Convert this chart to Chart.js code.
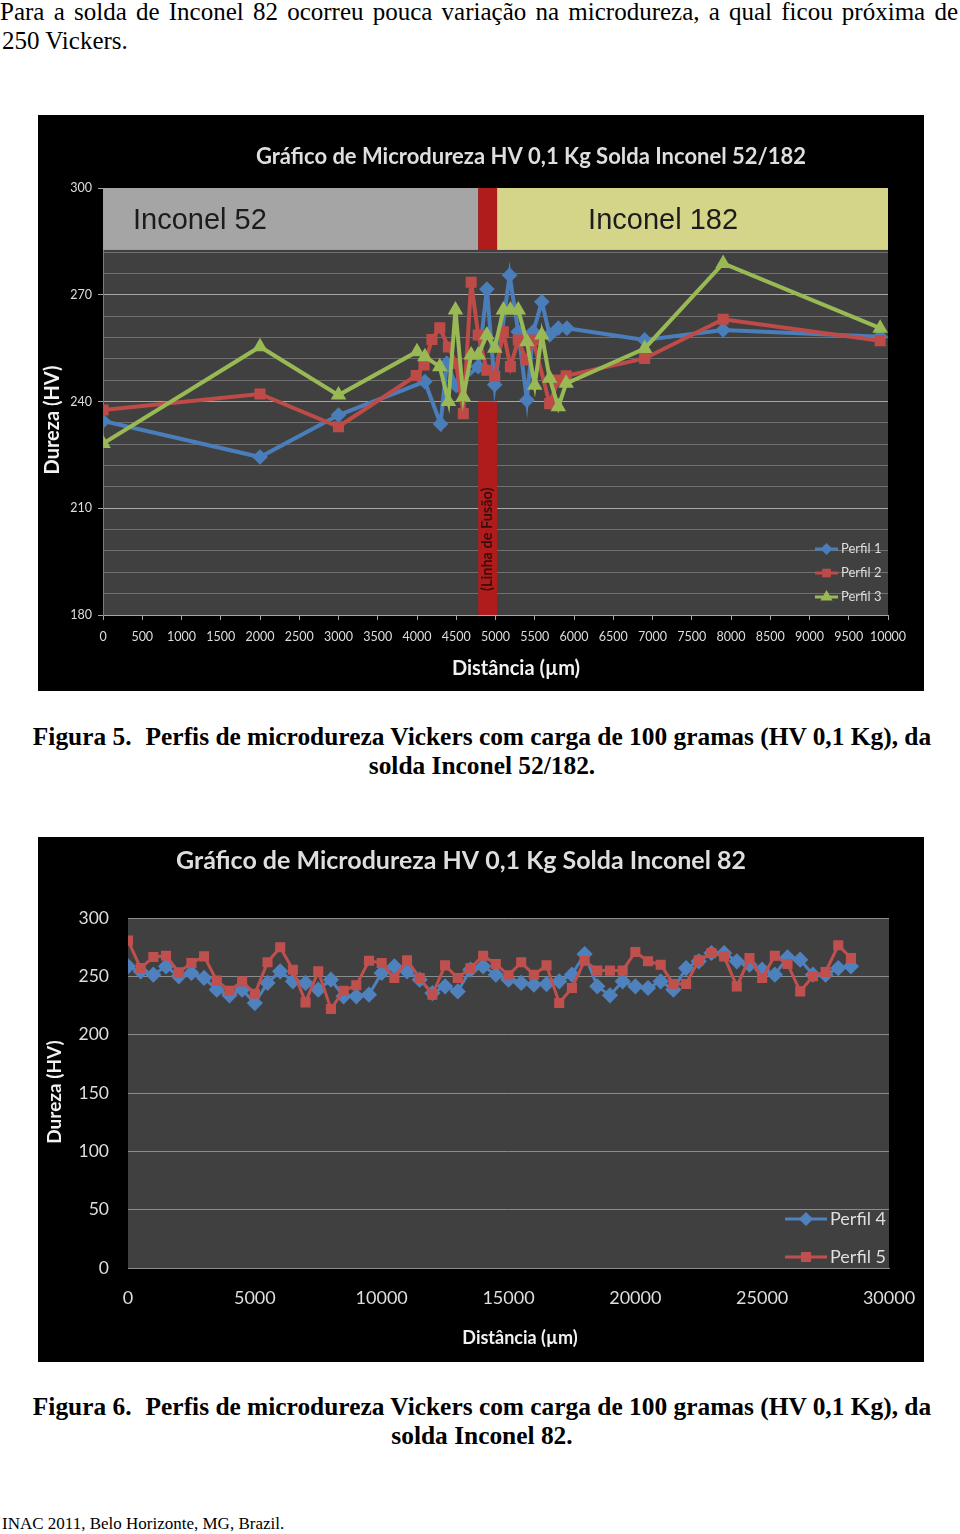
<!DOCTYPE html>
<html lang="pt">
<head>
    <meta charset="UTF-8">
    <title>Microdureza Vickers - Inconel</title>
    <script src="https://cdn.jsdelivr.net/npm/chart.js"></script>
    <style>
        body {
            margin: 0;
            width: 960px;
            height: 1534px;
            position: relative;
            overflow: hidden;
            background: #ffffff;
            font-family: 'Liberation Serif', 'Times New Roman', serif;
            color: #000;
        }
        #intro1 {
            position: absolute; left: 0; top: -3px; width: 958px;
            font-size: 25px; line-height: 29px;
            text-align: justify; text-align-last: justify;
        }
        #intro2 {
            position: absolute; left: 2px; top: 26px;
            font-size: 25px; line-height: 29px;
        }
        .box {
            position: absolute;
            left: 38px;
            width: 886px;
            background: #000;
        }
        #box1 { top: 115px; height: 576px; }
        #box2 { top: 837px; height: 525px; }
        .caption {
            position: absolute; left: 0; width: 964px;
            text-align: center; font-weight: bold;
            font-size: 25.4px; line-height: 29px;
        }
        .gap { display: inline-block; width: 14px; }
        #cap1 { top: 722px; }
        #cap2 { top: 1392px; }
        #footer {
            position: absolute; left: 2px; top: 1514px;
            font-size: 17px; line-height: 20px;
        }
    </style>
</head>
<body>
    <div id="intro1">Para a solda de Inconel 82 ocorreu pouca variação na microdureza, a qual ficou próxima de</div>
    <div id="intro2">250 Vickers.</div>

    <div class="box" id="box1"><canvas id="chart1" width="886" height="576"></canvas></div>
    <div class="caption" id="cap1">Figura 5.<span class="gap"></span>Perfis de microdureza Vickers com carga de 100 gramas (HV 0,1 Kg), da<br>solda Inconel 52/182.</div>

    <div class="box" id="box2"><canvas id="chart2" width="886" height="525"></canvas></div>
    <div class="caption" id="cap2">Figura 6.<span class="gap"></span>Perfis de microdureza Vickers com carga de 100 gramas (HV 0,1 Kg), da<br>solda Inconel 82.</div>

    <div id="footer">INAC 2011, Belo Horizonte, MG, Brazil.</div>

    <script>
        // --- Solda Inconel 52/182 (distância em µm, dureza HV)
        const perfil1X = [0, 2000, 3000, 4100, 4300, 4380, 4500, 4780, 4890, 4990, 5180, 5290, 5400, 5480, 5590, 5690, 5800, 5910, 6900, 7900, 9900];
        const perfil1Y = [234.5, 224.4, 236.2, 245.6, 233.7, 250.7, 244.5, 249.8, 271.6, 244.7, 275.5, 259.6, 240.4, 259.6, 268, 258.7, 260.6, 260.6, 257.3, 260.1, 258.2];
        const perfil2X = [0, 2000, 3000, 3990, 4090, 4190, 4290, 4400, 4500, 4590, 4690, 4780, 4890, 4990, 5100, 5190, 5290, 5390, 5480, 5690, 5800, 5900, 6900, 7900, 9900];
        const perfil2Y = [237.6, 242.1, 232.9, 247.3, 250.3, 257.4, 260.7, 255.3, 250.7, 236.6, 273.5, 258.7, 248.8, 247.1, 259.6, 249.8, 257.3, 251.7, 257.3, 239.4, 246, 247.2, 252.1, 263.1, 257.1];
        const perfil3X = [0, 2000, 3000, 4000, 4100, 4290, 4400, 4490, 4590, 4690, 4780, 4890, 4990, 5100, 5190, 5290, 5400, 5500, 5590, 5690, 5800, 5900, 6900, 7900, 9900];
        const perfil3Y = [228.2, 255.4, 241.8, 254, 252.6, 249.8, 240, 265.7, 241.3, 253.1, 253.1, 258.7, 255, 265.7, 265.7, 265.7, 256.8, 244.6, 258.7, 246.5, 238.5, 245.1, 254.9, 278.8, 260.6];

        // faixas: metal de solda / linha de fusão
        const inconel52Ate = 4780;
        const inconel182De = 5020;
        const faixaTopoBase = 282.6;
        const fusaoTopo = 240;

        // --- Solda Inconel 82
        const distancias82 = [0, 500, 1000, 1500, 2000, 2500, 3000, 3500, 4000, 4500, 5000, 5500, 6000, 6500, 7000, 7500, 8000, 8500, 9000, 9500,
            10000, 10500, 11000, 11500, 12000, 12500, 13000, 13500, 14000, 14500, 15000, 15500, 16000, 16500, 17000, 17500, 18000, 18500, 19000, 19500,
            20000, 20500, 21000, 21500, 22000, 22500, 23000, 23500, 24000, 24500, 25000, 25500, 26000, 26500, 27000, 27500, 28000, 28500];
        const perfil4 = [258.6, 254.3, 251.4, 258.6, 250, 252.9, 248.6, 238.6, 233.7, 238.6, 227.1, 244.3, 254.3, 245.7, 244.3, 238.6, 247.1, 232.9, 232.9, 234.3,
            252.9, 258.6, 254.3, 247.1, 235.7, 241.4, 237.1, 255.7, 258.6, 251.4, 247.1, 244.3, 242.9, 243.4, 245.7, 251.4, 269.1, 241.4, 233.7, 245.7,
            241.4, 240, 245.7, 238.6, 257.1, 262.9, 270, 270, 262.9, 260, 255.7, 251.4, 266.3, 264.3, 251.4, 251.4, 257.1, 258.6];
        const perfil5 = [280.6, 257.1, 266.6, 267.7, 253.4, 261.4, 267.1, 246.3, 237.7, 245.7, 235.1, 262, 274.9, 255.7, 227.7, 254.3, 222, 237.7, 242.3, 263.4,
            261.4, 248.6, 263.7, 248.6, 234.3, 259.4, 248.6, 257.1, 267.7, 260.6, 250.9, 262, 251.4, 259.4, 227.1, 240, 263.4, 254.9, 254.9, 254.9,
            270.9, 262.9, 260, 243.4, 243.4, 263.7, 270, 267.1, 241.4, 265.7, 248.6, 267.7, 260.6, 237.1, 250, 253.7, 276.6, 265.7];

        const FONT = "Lato, 'Open Sans', sans-serif";
        const BLUE = '#4a7ebb';
        const RED = '#be4b48';
        const GREEN = '#98b954';
        const LABEL = '#dedede';

        function pts(xs, ys) {
            return xs.map((x, i) => ({ x: x, y: ys[i] }));
        }
        const semMilhar = v => String(v);

        // fundo cinza da área de plotagem
        const plotBg = {
            id: 'plotBg',
            beforeDraw(chart) {
                const { ctx, chartArea: a } = chart;
                ctx.save();
                ctx.fillStyle = '#404040';
                ctx.fillRect(a.left, a.top, a.right - a.left, a.bottom - a.top);
                ctx.restore();
            }
        };

        function drawText(ctx, t) {
            ctx.save();
            ctx.font = t.font;
            ctx.fillStyle = t.color;
            ctx.textAlign = t.align || 'center';
            ctx.textBaseline = 'middle';
            ctx.translate(t.x, t.y);
            if (t.rotate) ctx.rotate(t.rotate);
            ctx.fillText(t.text, 0, 0);
            ctx.restore();
        }

        // textos fixos (título, eixos)
        const textos = {
            id: 'textos',
            afterDraw(chart, args, opts) {
                opts.items.forEach(t => drawText(chart.ctx, t));
            }
        };

        // legenda dentro da área do gráfico
        const legendaInterna = {
            id: 'legendaInterna',
            afterDraw(chart, args, opts) {
                const ctx = chart.ctx;
                chart.data.datasets.forEach((ds, i) => {
                    const y = opts.y + i * opts.gap;
                    ctx.save();
                    ctx.strokeStyle = ds.borderColor;
                    ctx.fillStyle = ds.borderColor;
                    ctx.lineWidth = opts.lineWidth;
                    ctx.beginPath();
                    ctx.moveTo(opts.x, y);
                    ctx.lineTo(opts.x + opts.len, y);
                    ctx.stroke();
                    Chart.helpers.drawPoint(ctx, { pointStyle: ds.pointStyle, radius: opts.radius, borderWidth: 1 }, opts.x + opts.len / 2, y);
                    ctx.restore();
                    drawText(ctx, { text: ds.label, x: opts.x + opts.len + 3, y: y, font: opts.font, color: LABEL, align: 'left' });
                });
            }
        };

        // faixas Inconel 52 / linha de fusão / Inconel 182
        const faixas = {
            id: 'faixas',
            beforeDatasetsDraw(chart) {
                const { ctx, scales: { x, y } } = chart;
                const top = y.getPixelForValue(300);
                const base = y.getPixelForValue(faixaTopoBase);
                const x0 = x.getPixelForValue(0);
                const xa = x.getPixelForValue(inconel52Ate);
                const xb = x.getPixelForValue(inconel182De);
                const x1 = x.getPixelForValue(10000);
                ctx.save();
                ctx.fillStyle = '#a5a5a5';
                ctx.fillRect(x0, top, xa - x0, base - top);
                ctx.fillStyle = '#d5d58a';
                ctx.fillRect(xb, top, x1 - xb, base - top);
                ctx.fillStyle = '#b01c1c';
                ctx.fillRect(xa, top, xb - xa, base - top);
                const f = y.getPixelForValue(fusaoTopo);
                const b = y.getPixelForValue(180);
                ctx.fillRect(xa, f, xb - xa, b - f);
                ctx.restore();
                const mid = (top + base) / 2 + 2;
                drawText(ctx, { text: 'Inconel 52', x: x0 + 30, y: mid, font: "29px 'Liberation Sans', Arial, sans-serif", color: '#1c1c1c', align: 'left' });
                drawText(ctx, { text: 'Inconel 182', x: xb + 91, y: mid, font: "29px 'Liberation Sans', Arial, sans-serif", color: '#1c1c1c', align: 'left' });
                drawText(ctx, { text: '(Linha de Fusão)', x: (xa + xb) / 2, y: (f + b) / 2 + 31, font: 'bold 14.5px ' + FONT, color: '#3a0c0c', rotate: -Math.PI / 2 });
            }
        };

        new Chart(document.getElementById('chart1'), {
            type: 'line',
            data: {
                datasets: [
                    { label: 'Perfil 1', data: pts(perfil1X, perfil1Y), borderColor: BLUE, backgroundColor: BLUE, pointStyle: 'rectRot', pointRadius: 5, borderWidth: 4, order: 3 },
                    { label: 'Perfil 2', data: pts(perfil2X, perfil2Y), borderColor: RED, backgroundColor: RED, pointStyle: 'rect', pointRadius: 5, borderWidth: 4, order: 2 },
                    { label: 'Perfil 3', data: pts(perfil3X, perfil3Y), borderColor: GREEN, backgroundColor: GREEN, pointStyle: 'triangle', pointRadius: 5, borderWidth: 4, order: 1 }
                ]
            },
            options: {
                responsive: false,
                animation: false,
                layout: { padding: { top: 73, right: 36, left: 0, bottom: 0 } },
                plugins: {
                    legend: { display: false },
                    tooltip: { enabled: false },
                    textos: {
                        items: [
                            { text: 'Gráfico de Microdureza HV 0,1 Kg Solda Inconel 52/182', x: 493, y: 42, font: 'bold 22px ' + FONT, color: LABEL },
                            { text: 'Dureza (HV)', x: 15, y: 305, font: 'bold 20px ' + FONT, color: '#f2f2f2', rotate: -Math.PI / 2 },
                            { text: 'Distância (µm)', x: 478, y: 554, font: 'bold 20px ' + FONT, color: '#f2f2f2' }
                        ]
                    },
                    legendaInterna: { x: 777, y: 434, gap: 24, len: 23, lineWidth: 3, radius: 4, font: '13px ' + FONT }
                },
                scales: {
                    x: {
                        type: 'linear', min: 0, max: 10000,
                        ticks: { stepSize: 500, color: LABEL, font: { family: FONT, size: 12.5 }, padding: 9, maxRotation: 0, autoSkip: false, callback: semMilhar },
                        grid: { drawOnChartArea: false, tickLength: 5, tickColor: '#a6a6a6' },
                        border: { color: '#a6a6a6' },
                        afterFit: s => { s.height = 76; }
                    },
                    y: {
                        min: 180, max: 300,
                        ticks: { stepSize: 6, autoSkip: false, color: LABEL, font: { family: FONT, size: 12.5 }, padding: 6,
                            callback: v => (v % 30 === 0 ? String(v) : '') },
                        grid: {
                            tickLength: 5,
                            color: c => (c.tick && c.tick.value % 30 === 0 ? '#a8a8a8' : '#707070'),
                            tickColor: c => (c.tick && c.tick.value % 30 === 0 ? '#a6a6a6' : 'rgba(0,0,0,0)')
                        },
                        border: { color: '#7a7a7a' },
                        afterFit: s => { s.width = 65; }
                    }
                }
            },
            plugins: [plotBg, faixas, textos, legendaInterna]
        });

        new Chart(document.getElementById('chart2'), {
            type: 'line',
            data: {
                datasets: [
                    { label: 'Perfil 4', data: pts(distancias82, perfil4), borderColor: '#4f81bd', backgroundColor: '#4f81bd', pointStyle: 'rectRot', pointRadius: 6, borderWidth: 3, order: 2 },
                    { label: 'Perfil 5', data: pts(distancias82, perfil5), borderColor: '#c0504d', backgroundColor: '#c0504d', pointStyle: 'rect', pointRadius: 5, borderWidth: 3, order: 1 }
                ]
            },
            options: {
                responsive: false,
                animation: false,
                layout: { padding: { top: 81, right: 35, left: 0, bottom: 0 } },
                plugins: {
                    legend: { display: false },
                    tooltip: { enabled: false },
                    textos: {
                        items: [
                            { text: 'Gráfico de Microdureza HV 0,1 Kg Solda Inconel 82', x: 423, y: 24, font: 'bold 25px ' + FONT, color: LABEL },
                            { text: 'Dureza (HV)', x: 17, y: 255, font: 'bold 19px ' + FONT, color: '#f2f2f2', rotate: -Math.PI / 2 },
                            { text: 'Distância (µm)', x: 482, y: 501, font: 'bold 18px ' + FONT, color: '#f2f2f2' }
                        ]
                    },
                    legendaInterna: { x: 747, y: 382, gap: 38, len: 42, lineWidth: 3, radius: 5, font: '18px ' + FONT }
                },
                scales: {
                    x: {
                        type: 'linear', min: 0, max: 30000,
                        ticks: { stepSize: 5000, color: LABEL, font: { family: FONT, size: 18 }, padding: 0, maxRotation: 0, callback: semMilhar },
                        grid: { drawOnChartArea: false, drawTicks: true, tickLength: 19, tickColor: 'rgba(0,0,0,0)' },
                        border: { color: '#8c8c8c' },
                        afterFit: s => { s.height = 94; }
                    },
                    y: {
                        min: 0, max: 300,
                        ticks: { stepSize: 50, color: LABEL, font: { family: FONT, size: 17.5 }, padding: 19 },
                        grid: { drawTicks: false, color: '#8c8c8c' },
                        border: { display: false },
                        afterFit: s => { s.width = 90; }
                    }
                }
            },
            plugins: [plotBg, textos, legendaInterna]
        });
    </script>
</body>
</html>
